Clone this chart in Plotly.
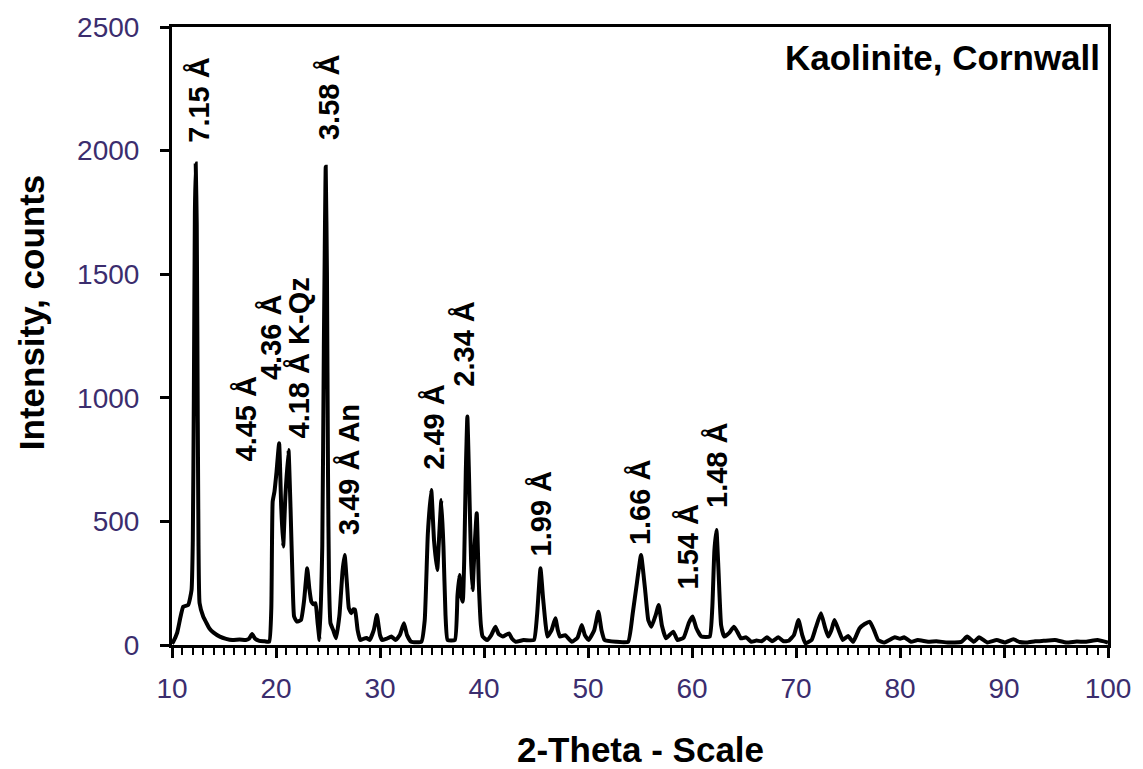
import plotly.graph_objects as go

# ---- data ----
two_theta = [
    10.0, 10.12, 10.5, 10.8, 11.08, 11.56, 11.88, 12.0, 12.1, 12.2, 12.28, 12.38, 12.48, 12.55, 12.65,
    13.0, 13.3, 13.6, 14.0, 14.6, 15.2, 15.8, 16.5, 17.1, 17.4, 17.7, 18.0, 18.4, 18.9, 19.35,
    19.55, 19.68, 19.85, 20.05, 20.3, 20.5, 20.69, 20.9, 21.2, 21.4, 21.6, 21.74, 22.0, 22.4,
    22.7, 23.0, 23.2, 23.4, 23.6, 23.8, 24.0, 24.19, 24.45, 24.6, 24.78, 24.9, 25.0, 25.1, 25.24,
    25.5, 25.77, 26.1, 26.4, 26.6, 26.85, 27.0, 27.24, 27.45, 27.6, 27.85, 28.1, 28.4, 28.7, 29.0,
    29.4, 29.7, 30.0, 30.2, 30.6, 31.1, 31.5, 31.9, 32.3, 32.6, 33.0, 33.98, 34.3, 34.6, 34.93,
    35.2, 35.5, 35.7, 35.9, 36.1, 36.3, 36.5, 37.2, 37.45, 37.64, 37.8, 37.96, 38.1, 38.25, 38.4,
    38.55, 38.75, 38.9, 39.1, 39.3, 39.5, 39.7, 39.87, 40.3, 40.7, 41.1, 41.4, 41.8, 42.4, 42.7,
    43.05, 43.8, 44.8, 45.1, 45.43, 45.7, 46.1, 46.5, 46.86, 47.1, 47.3, 47.8, 48.45, 49.0, 49.4,
    49.7, 50.05, 50.6, 51.0, 51.3, 51.6, 52.7, 53.86, 54.3, 54.7, 55.1, 55.5, 55.8, 56.1, 56.5,
    56.8, 57.1, 57.5, 58.2, 58.6, 59.2, 59.7, 60.06, 60.4, 60.9, 61.7, 61.95, 62.15, 62.35, 62.55,
    62.8, 63.1, 63.6, 64.03, 64.4, 64.7, 65.2, 65.7, 66.2, 66.7, 67.2, 67.7, 68.3, 68.8, 69.3,
    69.8, 70.24, 70.6, 70.9, 71.5, 71.9, 72.4, 72.8, 73.1, 73.4, 73.7, 74.1, 74.5, 75.0, 75.5,
    76.1, 76.6, 77.1, 77.5, 77.9, 78.5, 79.5, 80.0, 80.4, 81.06, 81.7, 82.7, 83.5, 84.6, 85.9,
    86.46, 87.1, 87.6, 88.4, 89.3, 90.1, 90.9, 91.5, 92.2, 93.0, 93.8, 94.9, 96.0, 97.0, 97.9,
    99.0, 100.0,
]
intensity = [
    5, 13, 50, 110, 155, 162, 222, 420, 1000, 1750, 1948, 1700, 900, 400, 170,
    115, 90, 67, 50, 34, 25, 20, 22, 20, 25, 44, 25, 17, 15, 13,
    150, 580, 620, 700, 816, 560, 398, 600, 789, 550, 250, 115, 95, 101,
    180, 310, 230, 175, 165, 169, 90, 20, 400, 1200, 1935, 1500, 700, 250, 88,
    60, 27, 120, 300, 364, 230, 150, 128, 145, 142, 60, 20, 25, 28, 20,
    60, 121, 40, 20, 25, 34, 20, 40, 88, 40, 13, 13, 100, 450, 627,
    420, 303, 450, 587, 400, 120, 20, 20, 200, 283, 200, 175, 350, 700, 924,
    700, 350, 222, 400, 533, 250, 80, 34, 20, 40, 74, 45, 34, 47, 25,
    13, 20, 20, 120, 310, 180, 34, 60, 108, 60, 34, 40, 13, 30, 81,
    40, 20, 60, 135, 60, 20, 13, 13, 128, 250, 364, 220, 100, 74, 120,
    162, 80, 27, 54, 20, 30, 90, 115, 70, 34, 34, 150, 380, 465, 300,
    80, 34, 50, 74, 50, 27, 31, 13, 18, 15, 31, 15, 31, 15, 17,
    40, 101, 40, 7, 20, 70, 128, 70, 34, 60, 101, 60, 20, 36, 13,
    67, 85, 94, 60, 20, 10, 31, 25, 31, 13, 20, 13, 15, 10, 13,
    34, 13, 31, 10, 20, 10, 23, 12, 10, 15, 17, 20, 10, 14, 13,
    20, 10,
]

label_text = ["7.15 Å", "4.45 Å", "4.36 Å", "4.18 Å K-Qz", "3.58 Å", "3.49 Å An",
              "2.49 Å", "2.34 Å", "1.99 Å", "1.66 Å", "1.54 Å", "1.48 Å"]
label_x = [12.58, 17.13, 19.45, 22.2, 25.03, 27.0, 35.2, 38.1, 45.5, 54.95, 59.6, 62.4]
label_y = [2023, 735, 1065, 829, 2036, 438, 701, 1038, 351, 398, 216, 546]

x_ticks = [10, 20, 30, 40, 50, 60, 70, 80, 90, 100]
y_ticks = [0, 500, 1000, 1500, 2000, 2500]

FONT = "Arial, Liberation Sans, sans-serif"
TICKCOL = "#3b2d6e"

fig = go.Figure()
fig.add_trace(go.Scatter(
    x=two_theta, y=intensity, mode="lines",
    line=dict(color="black", width=4, shape="spline", smoothing=0.4),
    showlegend=False, hoverinfo="skip",
))

for t, lx, ly in zip(label_text, label_x, label_y):
    fig.add_annotation(x=lx, y=ly, xref="x", yref="y", text=t, textangle=-90,
                       showarrow=False, xanchor="center", yanchor="bottom",
                       font=dict(family=FONT, size=29, color="black", weight="bold"))

fig.add_annotation(x=0.994, y=0.95, xref="paper", yref="paper", text="Kaolinite, Cornwall",
                   showarrow=False, xanchor="right", yanchor="middle",
                   font=dict(family=FONT, size=35, color="black", weight="bold"))

fig.add_annotation(x=(30 - 172) / 944, y=(645 - 312) / 618, xref="paper", yref="paper",
                   text="Intensity, counts", textangle=-90, showarrow=False,
                   xanchor="center", yanchor="middle",
                   font=dict(family=FONT, size=35, color="black", weight="bold"))

fig.add_annotation(x=0.5, y=(645 - 749) / 618, xref="paper", yref="paper",
                   text="2-Theta - Scale", showarrow=False,
                   xanchor="center", yanchor="middle",
                   font=dict(family=FONT, size=35, color="black", weight="bold"))

fig.update_layout(
    width=1143, height=769,
    margin=dict(l=172, r=27, t=27, b=124),
    paper_bgcolor="white", plot_bgcolor="white",
    font=dict(family=FONT),
)

fig.update_xaxes(
    range=[10, 100], tickvals=x_ticks, ticktext=[str(v) for v in x_ticks],
    showgrid=False, zeroline=False, showline=True, linecolor="black", linewidth=3,
    mirror=True, ticks="outside", ticklen=10, tickwidth=3, tickcolor="black",
    ticklabelstandoff=6,
    tickfont=dict(family="Liberation Sans Narrow, Arial Narrow, Arial", size=28, color=TICKCOL),
    minor=dict(dtick=1, ticks="outside", ticklen=7, tickwidth=2, tickcolor="black", showgrid=False),
)
fig.update_yaxes(
    range=[0, 2500], tickvals=y_ticks, ticktext=[str(v) for v in y_ticks],
    showgrid=False, zeroline=False, showline=True, linecolor="black", linewidth=3,
    mirror=True, ticks="outside", ticklen=9, tickwidth=3, tickcolor="black",
    ticklabelstandoff=15,
    tickfont=dict(family=FONT, size=28, color=TICKCOL),
)

fig.write_html("out.html")
